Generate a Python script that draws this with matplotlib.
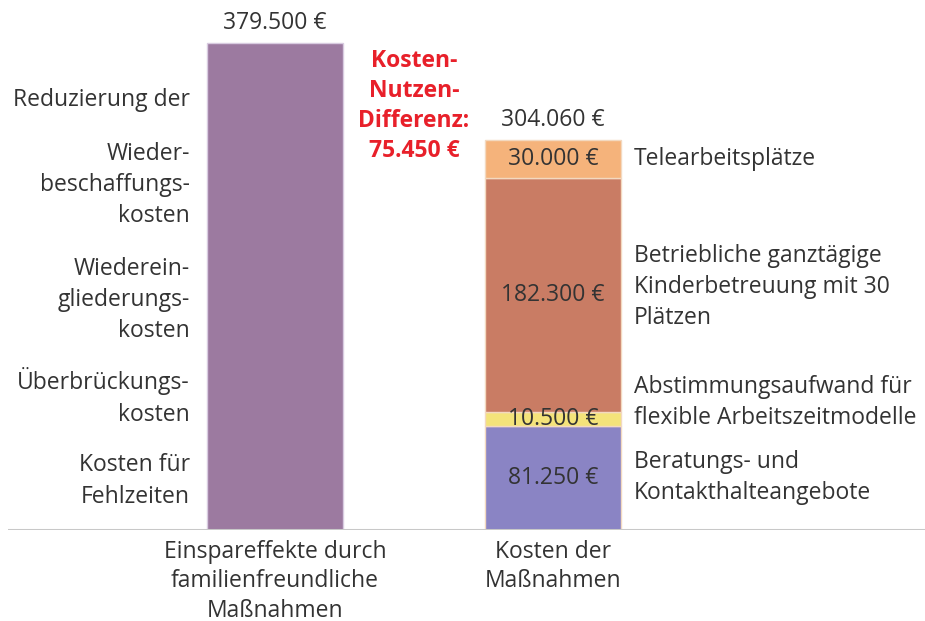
import matplotlib.pyplot as plt

plt.rcParams['font.family'] = ['Open Sans', 'DejaVu Sans']

# Daten
einsparung = 379500
kosten_werte = [81250, 10500, 182300, 30000]   # von unten nach oben
kosten_namen = ["Beratungs- und\nKontakthalteangebote",
                "Abstimmungsaufwand für\nflexible Arbeitszeitmodelle",
                "Betriebliche ganztägige\nKinderbetreuung mit 30\nPlätzen",
                "Telearbeitsplätze"]
kosten_farben = ["#8a84c4", "#f4e37a", "#c97c64", "#f5b37b"]
kosten_gesamt = 304060
differenz = 75450
kategorien = ["Einspareffekte durch\nfamilienfreundliche\nMaßnahmen", "Kosten der\nMaßnahmen"]
links_texte = ["Reduzierung der", "Wieder-\nbeschaffungs-\nkosten", "Wiederein-\ngliederungs-\nkosten",
               "Überbrückungs-\nkosten", "Kosten für\nFehlzeiten"]


def euro(v):
    return f"{v:,.0f} €".replace(",", ".")


fig = plt.figure(figsize=(9.25, 6.21), dpi=100)
ax = fig.add_axes([8 / 925, 91 / 621, 917 / 925, 530 / 621])
ax.set_xlim(-0.960, -0.960 + 917 / 278)
ax.set_ylim(0, einsparung * 530 / 487)
ax.axis("off")

txt = "#333333"
fs = 16.5
ls = 1.4
w = 0.49

# linker Balken
ax.bar(0, einsparung, width=w, color="#9c7aa0", edgecolor="#d8cbe0", linewidth=1)
ax.text(0, einsparung + 6000, euro(einsparung), ha="center", va="bottom", fontsize=fs, color=txt)

# rechter Balken (gestapelt)
unten = 0
verschiebung = [0, 12, 6, 0]  # Punkte nach oben, damit sich die Beschriftungen nicht drängen
for wert, name, farbe, dy in zip(kosten_werte, kosten_namen, kosten_farben, verschiebung):
    ax.bar(1, wert, width=w, bottom=unten, color=farbe, edgecolor="#f3d9c0", linewidth=1)
    mitte = unten + wert / 2
    ax.text(1, mitte, euro(wert), ha="center", va="center", fontsize=fs, color=txt)
    ax.annotate(name, (1.291, mitte), xytext=(0, dy), textcoords="offset points",
                ha="left", va="center", fontsize=fs, color=txt, linespacing=ls)
    unten += wert
ax.text(1, kosten_gesamt + 6000, euro(kosten_gesamt), ha="center", va="bottom", fontsize=fs, color=txt)

# Differenz
ymax = einsparung * 530 / 487
ax.text(0.50, ymax * (530 - 106) / 530,
        "Kosten-\nNutzen-\nDifferenz:\n" + euro(differenz),
        ha="center", va="center", fontsize=fs, color="#e8202a", fontweight="bold", linespacing=1.35)

# linke Beschriftungen
for t, ypix in zip(links_texte, [100, 185, 300, 397, 481]):
    ax.text(-0.306, ymax * (530 - ypix) / 530, t, ha="right", va="center",
            fontsize=fs, color=txt, linespacing=ls)

# Grundlinie
ax.axhline(0, color="#c8c8c8", lw=2.2, zorder=3)

# Kategorien
for i, k in enumerate(kategorien):
    ax.annotate(k, (i, 0), xytext=(0, -7), textcoords="offset points", ha="center", va="top",
                fontsize=fs, color=txt, linespacing=1.3, annotation_clip=False)

fig.savefig("out.png", dpi=100)
